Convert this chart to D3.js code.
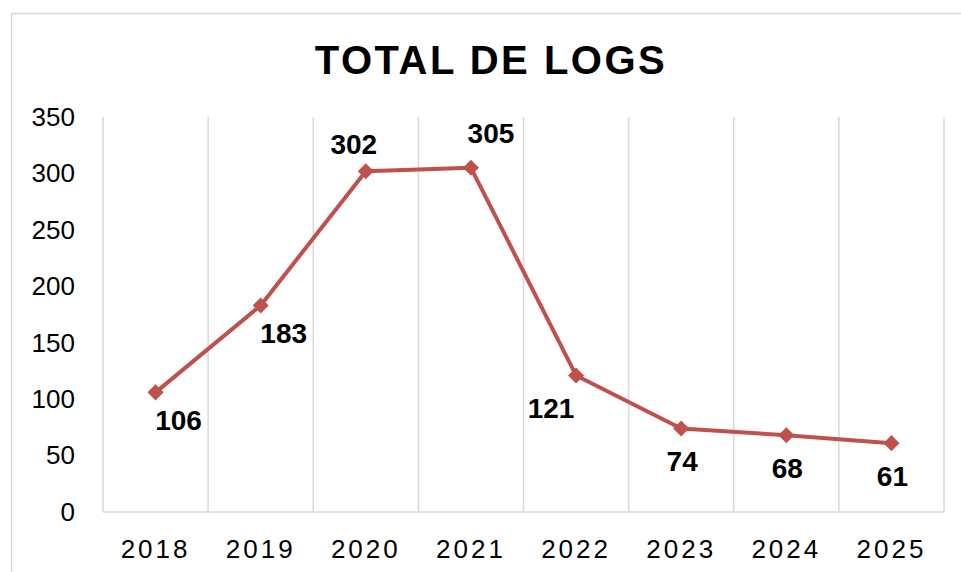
<!DOCTYPE html>
<html>
<head>
<meta charset="utf-8">
<script src="https://cdn.jsdelivr.net/npm/d3@7"></script>
<style>
  body { margin: 0; background: white; }
  text { font-family: "Liberation Sans", Arial, sans-serif; }
</style>
</head>
<body>
<div id="chart"></div>
<script>
/* CONSTANTS AND GLOBALS */
const width = 961;
const height = 572;
const margin = { top: 117, right: 17, bottom: 60, left: 103 };
const line_color = '#c0504d';
const grid_color = '#d9d9d9';

/* DATA */
const years = ['2018', '2019', '2020', '2021', '2022', '2023', '2024', '2025'];
const logs = [106, 183, 302, 305, 121, 74, 68, 61];
const yTicks = [0, 50, 100, 150, 200, 250, 300, 350];
// where each value label sits relative to its marker
const labelSide = ['below-right', 'below-right', 'above-left', 'above-right', 'below-left', 'below', 'below', 'below'];

const data = years.map((y, i) => ({ year: y, value: logs[i], side: labelSide[i] }));

/* SCALES */
const xScale = d3.scaleBand()
  .domain(years)
  .range([margin.left, width - margin.right]);

const yScale = d3.scaleLinear()
  .domain([0, 350])
  .range([height - margin.bottom, margin.top]);

const cx = d => xScale(d.year) + xScale.bandwidth() / 2;

/* SVG */
const svg = d3.select('#chart')
  .append('svg')
  .attr('width', width)
  .attr('height', height)
  .style('background-color', 'white');

// outer chart border
svg.append('rect')
  .attr('x', 11.5)
  .attr('y', 13.5)
  .attr('width', width + 20)
  .attr('height', height + 20)
  .attr('fill', 'none')
  .attr('stroke', grid_color)
  .attr('stroke-width', 1.5);

svg.append('text')
  .attr('x', 491)
  .attr('y', 74)
  .attr('text-anchor', 'middle')
  .attr('font-size', 40)
  .attr('font-weight', 'bold')
  .attr('letter-spacing', 2.5)
  .attr('fill', '#000')
  .text('TOTAL DE LOGS');

// vertical gridlines at category boundaries
const bounds = years.map(y => xScale(y)).concat([xScale.range()[1]]);
svg.append('g')
  .selectAll('line')
  .data(bounds)
  .join('line')
  .attr('x1', d => d)
  .attr('x2', d => d)
  .attr('y1', yScale(350))
  .attr('y2', yScale(0))
  .attr('stroke', grid_color)
  .attr('stroke-width', 1.5);

// baseline
svg.append('line')
  .attr('x1', xScale.range()[0])
  .attr('x2', xScale.range()[1])
  .attr('y1', yScale(0))
  .attr('y2', yScale(0))
  .attr('stroke', grid_color)
  .attr('stroke-width', 1.5);

// y axis labels
svg.append('g')
  .attr('transform', `translate(${margin.left - 28},0)`)
  .call(d3.axisLeft(yScale).tickValues(yTicks).tickSize(0).tickPadding(0))
  .call(g => g.select('.domain').remove())
  .call(g => g.selectAll('text')
    .attr('font-size', 26)
    .attr('fill', '#000')
    .attr('font-family', '"Liberation Sans", Arial, sans-serif'));

// x axis labels
svg.append('g')
  .attr('transform', `translate(0,${yScale(0)})`)
  .call(d3.axisBottom(xScale).tickSize(0).tickPadding(28))
  .call(g => g.select('.domain').remove())
  .call(g => g.selectAll('text')
    .attr('font-size', 26)
    .attr('letter-spacing', 3)
    .attr('fill', '#000')
    .attr('font-family', '"Liberation Sans", Arial, sans-serif'));

// line
const line = d3.line()
  .x(cx)
  .y(d => yScale(d.value));

svg.append('path')
  .datum(data)
  .attr('fill', 'none')
  .attr('stroke', line_color)
  .attr('stroke-width', 4)
  .attr('stroke-linejoin', 'round')
  .attr('d', line);

// diamond markers
svg.append('g')
  .selectAll('path')
  .data(data)
  .join('path')
  .attr('transform', d => `translate(${cx(d)},${yScale(d.value)})`)
  .attr('d', d3.symbol(d3.symbolDiamond2, 165))
  .attr('fill', line_color);

// value labels
const offsets = {
  'below-right': [23, 38],
  'above-left': [-12, -17],
  'above-right': [20, -25],
  'below-left': [-25, 43],
  'below': [1, 43]
};

svg.append('g')
  .selectAll('text')
  .data(data)
  .join('text')
  .attr('x', d => cx(d) + offsets[d.side][0])
  .attr('y', d => yScale(d.value) + offsets[d.side][1])
  .attr('text-anchor', 'middle')
  .attr('font-size', 28)
  .attr('font-weight', 'bold')
  .attr('fill', '#000')
  .text(d => d.value);
</script>
</body>
</html>
